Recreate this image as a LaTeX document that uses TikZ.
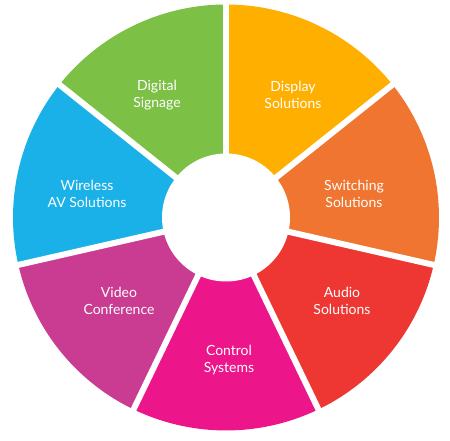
\documentclass[tikz,border=0pt]{standalone}
\usepackage{fontspec}
\setmainfont{Lato}
\definecolor{cgreen}{HTML}{7CC046}
\definecolor{cyellow}{HTML}{FFAF00}
\definecolor{corange}{HTML}{EF7530}
\definecolor{cred}{HTML}{EE3733}
\definecolor{cpink}{HTML}{EC168A}
\definecolor{cmagenta}{HTML}{C93C91}
\definecolor{cblue}{HTML}{1AB1E8}
\tikzset{
  lbl/.style={text=white, align=center, font=\fontsize{14}{17}\selectfont},
  gapline/.style={white, line width=6pt},
}
\begin{document}
\begin{tikzpicture}[x=1pt,y=1pt]
\useasboundingbox (0,0) rectangle (450,441);
\coordinate (C) at (226,223.5);
\def\R{213}
\foreach \a/\c in {90/cgreen, 38.571/cyellow, -12.857/corange, -64.286/cred, -115.714/cpink, -167.143/cmagenta, -218.571/cblue}{
  \fill[\c] (C) -- ++(\a:\R) arc[start angle=\a, end angle=\a+51.4286, radius=\R] -- cycle;
}
\foreach \a in {90, 38.571, -12.857, -64.286, -115.714, -167.143, -218.571}{
  \draw[gapline] (C) -- ++(\a:\R+5);
}
\fill[white] (C) circle[radius=64];
\node[lbl] (dig) at (157,346) {Digital\\Signage};
\node[lbl] (dis) at (293,346) {Display\\Solutions};
\node[lbl] (sw) at (354,247) {Switching\\Solutions};
\node[lbl] (au) at (342,140) {Audio\\Solutions};
\node[lbl] (co) at (229,81) {Control\\Systems};
\node[lbl] (vi) at (119,140) {Video\\Conference};
\node[lbl] (wi) at (87,247) {Wireless\\AV Solutions};
\end{tikzpicture}
\end{document}
